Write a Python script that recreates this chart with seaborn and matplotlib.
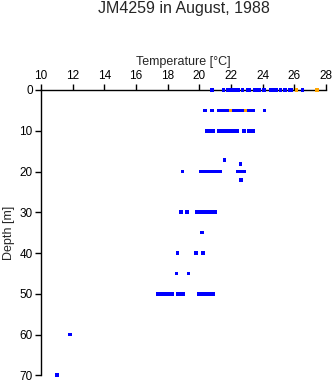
import numpy as np
import pandas as pd
import matplotlib
matplotlib.use("Agg")
import matplotlib.pyplot as plt
import seaborn as sns

# ---- data ----
t_d0 = [20.82, 21.52, 21.83, 22.00, 22.15, 22.30, 22.43, 22.72, 23.06, 23.16, 23.52,
        23.77, 24.10, 24.53, 24.70, 24.85, 25.12, 25.41, 25.69, 25.81, 26.51]
t_d5 = [20.36, 20.80, 21.23, 21.35, 21.45, 21.55, 21.62, 21.75, 21.83, 22.05, 22.15,
        22.30, 22.46, 22.63, 22.78, 23.10, 23.20, 23.41, 24.11]
t_d10 = [20.47, 20.68, 20.77, 20.88, 21.24, 21.37, 21.50, 21.62, 21.75, 21.88, 22.00,
         22.13, 22.26, 22.36, 22.82, 23.14, 23.41]
t_d17 = [21.58]
t_d18 = [22.59]
t_d20 = [18.93, 20.10, 20.25, 20.40, 20.55, 20.70, 20.85, 21.00, 21.15, 21.30,
         22.43, 22.55, 22.68, 22.80]
t_d22 = [22.63]
t_d30 = [18.86, 19.20, 19.83, 19.97, 20.10, 20.25, 20.40, 20.55, 20.70, 20.85, 21.00]
t_d35 = [20.15]
t_d40 = [18.63, 19.79, 20.23]
t_d45 = [18.55, 19.31]
t_d50 = [17.41, 17.52, 17.66, 17.80, 17.96, 18.12, 18.26, 18.63, 18.78, 18.95,
         20.00, 20.14, 20.30, 20.46, 20.62, 20.74, 20.85]
t_d60 = [11.83]
t_d70 = [11.03]

blue_depths = [0, 5, 10, 17.2, 18.2, 20, 22, 30, 35, 40, 45, 50, 60, 70]
blue_temps = [t_d0, t_d5, t_d10, t_d17, t_d18, t_d20, t_d22, t_d30, t_d35,
              t_d40, t_d45, t_d50, t_d60, t_d70]

orange_temps = [26.13, 27.42, 21.96, 22.91]
orange_depths = [0, 0, 5, 5]

x_ticks = [10, 12, 14, 16, 18, 20, 22, 24, 26, 28]
y_ticks = [0, 10, 20, 30, 40, 50, 60, 70]

title = "JM4259 in August, 1988"
x_label = "Temperature [\u00b0C]"
y_label = "Depth [m]"

rows = []
for d, ts in zip(blue_depths, blue_temps):
    for t in ts:
        rows.append((t, d, "normal"))
for t, d in zip(orange_temps, orange_depths):
    rows.append((t, d, "flag"))
df = pd.DataFrame(rows, columns=["temp", "depth", "kind"])

sns.set_style("white")
plt.rcParams["font.family"] = ["Liberation Sans", "DejaVu Sans"]

fig = plt.figure(figsize=(3.35, 3.84), dpi=100)
ax = fig.add_axes([41 / 335, 1 - 375.3 / 384, 285 / 335, 285.3 / 384])

sns.scatterplot(data=df, x="temp", y="depth", hue="kind",
                palette={"normal": "#0000ff", "flag": "#ffa500"},
                marker="s", s=7, linewidth=0, legend=False, ax=ax, zorder=3,
                clip_on=False)

ax.set_xlim(10, 28)
ax.set_ylim(70, 0)
ax.set_xticks(x_ticks)
ax.set_yticks(y_ticks)
ax.xaxis.tick_top()
ax.xaxis.set_label_position("top")
for s in ["right", "bottom"]:
    ax.spines[s].set_visible(False)
for s in ["top", "left"]:
    ax.spines[s].set_visible(True)
    ax.spines[s].set_color("black")
    ax.spines[s].set_linewidth(1.0)
ax.tick_params(axis="both", direction="out", length=4, width=1, color="black",
               labelsize=8.5, labelcolor="black", pad=2)
ax.tick_params(axis="x", top=True, bottom=False)
ax.tick_params(axis="y", left=True, right=False)
ax.set_xlabel(x_label, fontsize=9, labelpad=3)
ax.set_ylabel(y_label, fontsize=9, labelpad=3)
ax.grid(False)

fig.text((41 + 326) / 2 / 335, 1 - 9 / 384, title, ha="center", va="center",
         fontsize=11.5)

fig.savefig("out.png", dpi=100)
